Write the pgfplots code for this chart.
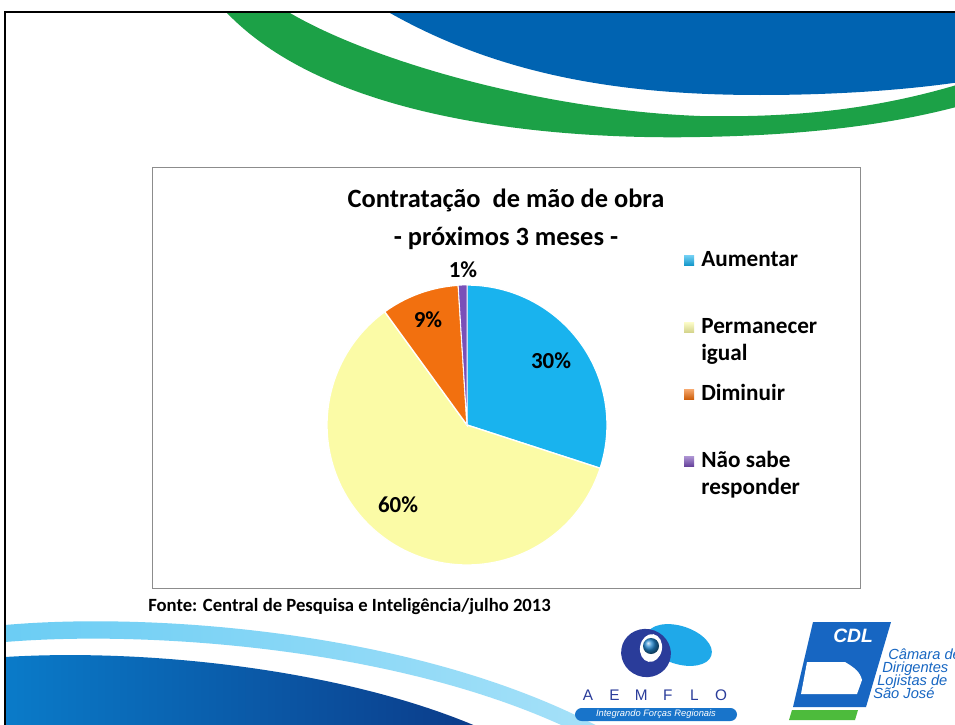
\documentclass[border=0pt]{standalone}
\usepackage{pgfplots}
\pgfplotsset{compat=1.18}
\usepackage{pgfplotstable}
\usepackage{fontspec}
\setmainfont{Carlito}
\newfontfamily\arialfont{Liberation Sans}
\definecolor{cAum}{HTML}{19B3EE}
\definecolor{cPerm}{HTML}{FBFBA6}
\definecolor{cDim}{HTML}{F2700F}
\definecolor{cNao}{HTML}{7A50B8}
\definecolor{topblue}{HTML}{0063B1}
\definecolor{topgreen}{HTML}{1CA147}
\definecolor{lightband}{HTML}{6BCDF4}
\definecolor{darkbandL}{HTML}{0A7BC9}
\definecolor{darkbandR}{HTML}{0B3A88}
\definecolor{logodark}{HTML}{2A3C9A}
\definecolor{logolight}{HTML}{1FA9E9}
\definecolor{cdlblue}{HTML}{1766C2}
\definecolor{cdlgreen}{HTML}{4DBB3C}
\definecolor{frame}{HTML}{8C8C8C}

\pgfplotstableread{
label value
Aumentar 30
Permanecer 60
Diminuir 9
NaoSabe 1
}\piedata

\begin{document}%
\begin{tikzpicture}
\pgfplotstablegetelem{0}{value}\of\piedata \let\vA\pgfplotsretval
\pgfplotstablegetelem{1}{value}\of\piedata \let\vB\pgfplotsretval
\pgfplotstablegetelem{2}{value}\of\piedata \let\vC\pgfplotsretval
\pgfplotstablegetelem{3}{value}\of\piedata \let\vD\pgfplotsretval
\pgfmathsetmacro\aA{90-3.6*\vA}
\pgfmathsetmacro\aB{\aA-3.6*\vB}
\pgfmathsetmacro\aC{\aB-3.6*\vC}
\pgfmathsetmacro\aD{\aC-3.6*\vD}
\path[use as bounding box] (0pt,0pt) rectangle (716.25pt,-543pt);
\begin{scope}[x=0.75pt,y=-0.75pt]
\fill[white] (0,0) rectangle (955,724);
\begin{scope}
\clip (0,0) rectangle (955,724);
% top decoration
\fill[topblue] (390,13) .. controls (500,75) and (620,95) .. (760,95) .. controls (850,95) and (920,88) .. (960,82) -- (960,13) -- cycle;
\fill[topgreen] (227,13) .. controls (330,120) and (550,140) .. (700,137) .. controls (820,135) and (900,122) .. (960,106)
  -- (960,84) .. controls (880,108) and (800,118) .. (700,116) .. controls (540,110) and (370,60) .. (290,13) -- cycle;
% bottom decoration
\shade[left color=darkbandL, right color=darkbandR] (5,657) .. controls (150,648) and (350,670) .. (485,730) -- (5,730) -- cycle;
\shade[left color=lightband, right color=lightband!60!white] (5,625) .. controls (150,612) and (420,630) .. (605,730) -- (572,730) .. controls (400,648) and (150,630) .. (5,642) -- cycle;
% AEMFLO logo
\fill[logolight, rotate around={-18:(679,645)}] (679,645) ellipse (34 and 19);
\fill[logodark, rotate around={-20:(646,653)}] (646,653) ellipse (25 and 24);
\fill[white, rotate around={-10:(651,648)}] (651,648) ellipse (11 and 14);
\shade[ball color=logolight!70!logodark] (651,646) circle (8);
\foreach \L/\X in {A/588,E/614.6,M/641.2,F/667.8,L/694.4,O/721}
  \node[text=logodark, font=\arialfont\fontsize{11.5pt}{13pt}\selectfont, anchor=base, inner sep=0pt] at (\X,700) {\L};
\fill[cdlblue!80!logolight, rounded corners=5] (575,708) rectangle (737,721);
\node[text=white, font=\arialfont\fontsize{7pt}{8pt}\selectfont\itshape] at (656,714.5) {Integrando Forças Regionais};
% CDL logo
\fill[cdlblue] (813,622) -- (891,622) -- (866,707) -- (793,707) -- cycle;
\node[text=white, font=\arialfont\fontsize{14.5pt}{16pt}\selectfont\bfseries\itshape, anchor=base west, inner sep=0pt] at (833,642) {CDL};
\fill[white] (807,662) -- (845,662) .. controls (855,668) and (860,672) .. (862,680) -- (857,694) -- (801,694) -- cycle;
\fill[cdlgreen] (792,710) -- (858,710) -- (855,720) -- (789,720) -- cycle;
\node[text=cdlblue, font=\arialfont\fontsize{11pt}{11pt}\selectfont\itshape, anchor=base west, inner sep=0pt] at (888,659) {Câmara de};
\node[text=cdlblue, font=\arialfont\fontsize{11pt}{11pt}\selectfont\itshape, anchor=base west, inner sep=0pt] at (882,672) {Dirigentes};
\node[text=cdlblue, font=\arialfont\fontsize{11pt}{11pt}\selectfont\itshape, anchor=base west, inner sep=0pt] at (877,685) {Lojistas de};
\node[text=cdlblue, font=\arialfont\fontsize{11pt}{11pt}\selectfont\itshape, anchor=base west, inner sep=0pt] at (873,698) {São José};
\end{scope}
% slide border
\draw[black, line width=1.5pt] (4,12) -- (960,12);
\draw[black, line width=1.5pt] (5,12) -- (5,730);
% chart frame
\draw[frame, line width=0.75pt] (152,167) rectangle (860,588);
% title
\node[anchor=base, font=\fontsize{19.8pt}{24pt}\selectfont\bfseries] at (506,207) {Contratação\ \ de mão de obra};
\node[anchor=base, font=\fontsize{19.8pt}{24pt}\selectfont\bfseries] at (506,245) {- próximos 3 meses -};
% legend
\shade[top color=cAum!60!white, bottom color=cAum!85!black] (684,255) rectangle (694,265);
\node[anchor=base west, inner sep=0pt, font=\fontsize{17.4pt}{20pt}\selectfont\bfseries] at (701,266) {Aumentar};
\shade[top color=cPerm!60!white, bottom color=cPerm!85!black] (684,322) rectangle (694,332);
\node[anchor=base west, inner sep=0pt, font=\fontsize{17.4pt}{20pt}\selectfont\bfseries] at (701,333) {Permanecer};
\node[anchor=base west, inner sep=0pt, font=\fontsize{17.4pt}{20pt}\selectfont\bfseries] at (701,360) {igual};
\shade[top color=cDim!60!white, bottom color=cDim!85!black] (684,389) rectangle (694,399);
\node[anchor=base west, inner sep=0pt, font=\fontsize{17.4pt}{20pt}\selectfont\bfseries] at (701,400) {Diminuir};
\shade[top color=cNao!60!white, bottom color=cNao!85!black] (684,456) rectangle (694,466);
\node[anchor=base west, inner sep=0pt, font=\fontsize{17.4pt}{20pt}\selectfont\bfseries] at (701,467) {Não sabe};
\node[anchor=base west, inner sep=0pt, font=\fontsize{17.4pt}{20pt}\selectfont\bfseries] at (701,494) {responder};
% footer
\node[anchor=base west, inner sep=0pt, font=\fontsize{14pt}{16pt}\selectfont\bfseries] at (148,611) {Fonte: Central de Pesquisa e Inteligência/julho 2013};
\end{scope}
\begin{axis}[
  at={(350.25pt,-318.75pt)}, anchor=center,
  width=210pt, height=210pt, scale only axis,
  xmin=-1, xmax=1, ymin=-1, ymax=1,
  hide axis, clip=false,
]
\addplot[fill=cAum, draw=white, line width=1pt, domain=90:\aA, samples=90, variable=\t] ({cos(\t)},{sin(\t)}) -- (axis cs:0,0) -- cycle;
\addplot[fill=cPerm, draw=white, line width=1pt, domain=\aA:\aB, samples=150, variable=\t] ({cos(\t)},{sin(\t)}) -- (axis cs:0,0) -- cycle;
\addplot[fill=cDim, draw=white, line width=1pt, domain=\aB:\aC, samples=40, variable=\t] ({cos(\t)},{sin(\t)}) -- (axis cs:0,0) -- cycle;
\addplot[fill=cNao, draw=white, line width=0.6pt, domain=\aC:\aD, samples=10, variable=\t] ({cos(\t)},{sin(\t)}) -- (axis cs:0,0) -- cycle;
\node[font=\fontsize{17.2pt}{20pt}\selectfont\bfseries] at (axis cs:0.60,0.457) {30\%};
\node[font=\fontsize{17.2pt}{20pt}\selectfont\bfseries] at (axis cs:-0.493,-0.571) {60\%};
\node[font=\fontsize{17.2pt}{20pt}\selectfont\bfseries] at (axis cs:-0.279,0.75) {9\%};
\node[font=\fontsize{17.2pt}{20pt}\selectfont\bfseries] at (axis cs:-0.029,1.107) {1\%};
\end{axis}
\end{tikzpicture}%
\end{document}
